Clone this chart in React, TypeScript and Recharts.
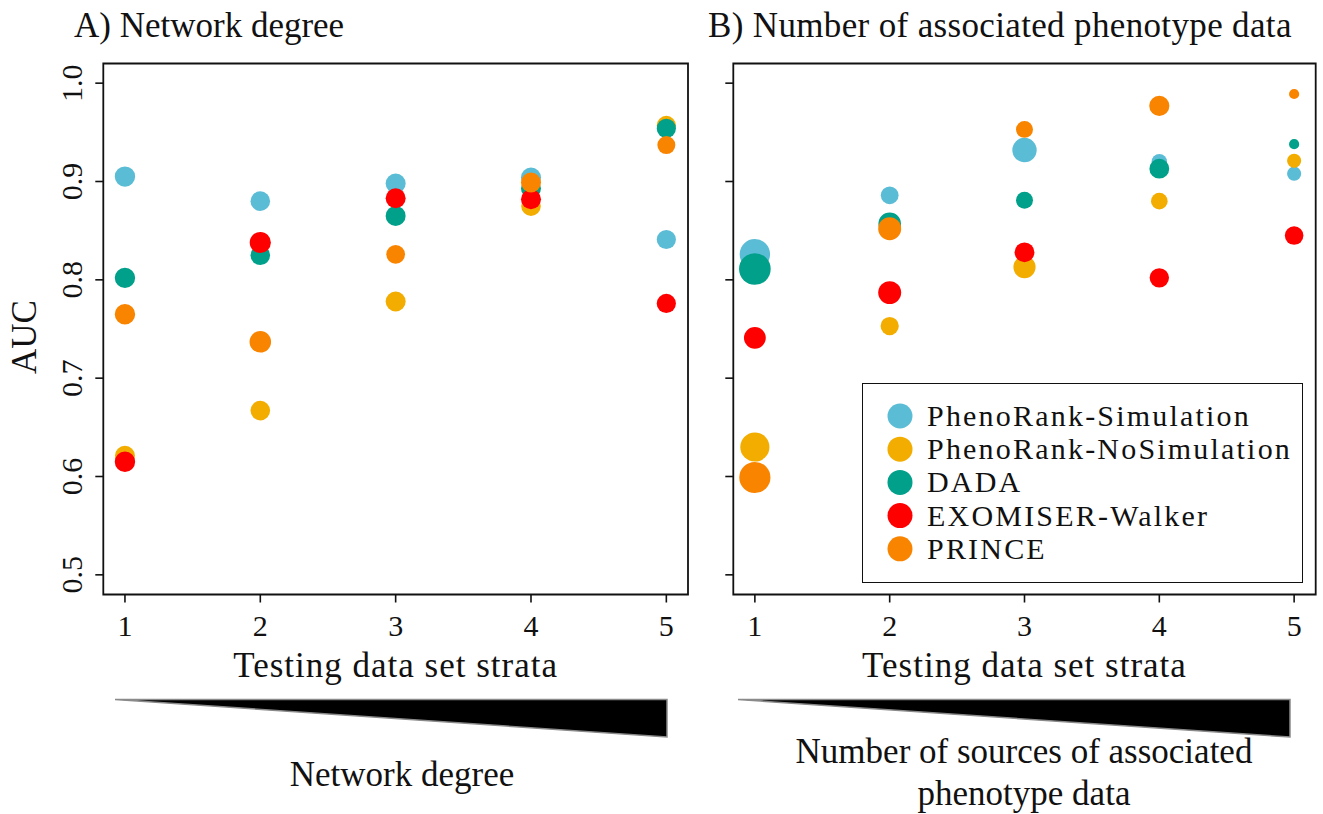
import React from 'react';
import { ScatterChart, Scatter, XAxis, YAxis, ZAxis, ReferenceArea, Legend } from 'recharts';

// ---------- data ----------
const strata = [1, 2, 3, 4, 5];
const yTicks = [0.5, 0.6, 0.7, 0.8, 0.9, 1.0];
const xDomain = [0.84, 5.16];
const yDomain = [0.48, 1.02];

const seriesNames = ['PhenoRank-Simulation', 'PhenoRank-NoSimulation', 'DADA', 'EXOMISER-Walker', 'PRINCE'];
const seriesColors = ['#5BBCD6', '#F2AD00', '#00A08A', '#FF0000', '#F98400'];

// Panel A: AUC by network-degree stratum
const aSim = [0.905, 0.880, 0.898, 0.904, 0.841];
const aNoSim = [0.621, 0.667, 0.778, 0.875, 0.957];
const aDada = [0.802, 0.825, 0.865, 0.893, 0.954];
const aExo = [0.615, 0.838, 0.883, 0.882, 0.776];
const aPrince = [0.765, 0.737, 0.826, 0.899, 0.937];
// Panel A: relative point weights (bubble size)
const aSimW = [104, 96, 100, 100, 92];
const aNoSimW = [100, 96, 100, 96, 92];
const aDadaW = [104, 96, 100, 100, 92];
const aExoW = [104, 112, 100, 100, 92];
const aPrinceW = [104, 116, 88, 100, 81];

// Panel B: AUC by number of associated phenotype data stratum
const bSim = [0.826, 0.886, 0.932, 0.920, 0.908];
const bNoSim = [0.630, 0.753, 0.813, 0.880, 0.921];
const bDada = [0.811, 0.857, 0.881, 0.913, 0.938];
const bExo = [0.741, 0.787, 0.828, 0.802, 0.845];
const bPrince = [0.599, 0.852, 0.953, 0.977, 0.989];
// Panel B: relative point weights (bubble size)
const bSimW = [231, 79, 149, 60, 50];
const bNoSimW = [213, 83, 123, 69, 50];
const bDadaW = [250, 128, 72, 98, 26];
const bExoW = [119, 132, 98, 94, 86];
const bPrinceW = [243, 132, 72, 102, 26];

const build = (vals: number[], w: number[]) => strata.map((x, i) => ({ x, y: vals[i], w: w[i] }));

const panelA = [
  build(aSim, aSimW), build(aNoSim, aNoSimW), build(aDada, aDadaW), build(aExo, aExoW), build(aPrince, aPrinceW),
];
const panelB = [
  build(bSim, bSimW), build(bNoSim, bNoSimW), build(bDada, bDadaW), build(bExo, bExoW), build(bPrince, bPrinceW),
];

// ---------- style ----------
const FONT = '"Liberation Serif", "DejaVu Serif", serif';
const INK = '#111';

const YTickLabel = (props: any) => {
  const { x, y, payload } = props;
  const bx = x - 13;
  return (
    <text transform={`translate(${bx},${y}) rotate(-90)`} textAnchor="middle" fontFamily={FONT} fontSize={30} fill={INK}>
      {payload.value.toFixed(1)}
    </text>
  );
};

const NoTick = () => <g />;

const xLabel = (props: any) => {
  const vb = props.viewBox || {};
  return (
    <text x={vb.x + vb.width / 2} y={vb.y + 82} textAnchor="middle" fontFamily={FONT} fontSize={35} letterSpacing={1} fill={INK}>
      Testing data set strata
    </text>
  );
};

const yLabel = () => {
  const cx = 36;
  const cy = 337;
  return (
    <text transform={`translate(${cx},${cy}) rotate(-90)`} textAnchor="middle" fontFamily={FONT} fontSize={35} fill={INK}>
      AUC
    </text>
  );
};

const LegendBox = (props: any) => {
  const payload = [...(props.payload || [])].sort(
    (a: any, b: any) => seriesNames.indexOf(a.value) - seriesNames.indexOf(b.value)
  );
  return (
    <div style={{ width: 441, height: 200, border: `1.6px solid ${INK}`, boxSizing: 'border-box', background: '#fff' }}>
      <svg width={438} height={197} style={{ display: 'block' }}>
        {payload.map((p: any, i: number) => (
          <g key={i}>
            <circle cx={37} cy={32 + i * 33.2} r={12.5} fill={p.color} />
            <text x={64} y={42 + i * 33.2} fontFamily={FONT} fontSize={30} letterSpacing={2.2} fill={INK}>
              {p.value}
            </text>
          </g>
        ))}
      </svg>
    </div>
  );
};

const Panel = ({ data, left, width, marginLeft, marginRight, showYLabels, legend }: any) => (
  <div style={{ position: 'absolute', left, top: 0 }}>
    <ScatterChart
      width={width}
      height={700}
      margin={{ top: 63.5, right: marginRight, bottom: 25.5, left: marginLeft }}
    >
      <XAxis
        type="number"
        dataKey="x"
        domain={xDomain}
        allowDataOverflow
        ticks={strata}
        interval={0}
        tickSize={8}
        tickMargin={12}
        axisLine={false}
        tickLine={{ stroke: INK, strokeWidth: 1.6 }}
        tick={{ fontFamily: FONT, fontSize: 30, fill: INK }}
        height={80}
        label={xLabel}
      />
      <YAxis
        type="number"
        dataKey="y"
        domain={yDomain}
        allowDataOverflow
        ticks={yTicks}
        interval={0}
        tickSize={8}
        tickMargin={0}
        axisLine={false}
        tickLine={{ stroke: INK, strokeWidth: 1.6 }}
        tick={showYLabels ? YTickLabel : NoTick}
        width={showYLabels ? 50 : 30}
        label={showYLabels ? yLabel : undefined}
      />
      <ZAxis type="number" dataKey="w" domain={[0, 400]} range={[0, 400 * Math.PI]} />
      <ReferenceArea
        x1={xDomain[0]}
        x2={xDomain[1]}
        y1={yDomain[0]}
        y2={yDomain[1]}
        fill="none"
        fillOpacity={0}
        stroke={INK}
        strokeWidth={1.8}
        ifOverflow="visible"
      />
      {data.map((d: any[], i: number) => (
        <Scatter
          key={seriesNames[i]}
          name={seriesNames[i]}
          data={d}
          fill={seriesColors[i]}
          isAnimationActive={false}
          legendType="circle"
        />
      ))}
      {legend && (
        <Legend
          layout="vertical"
          align="center"
          verticalAlign="middle"
          content={LegendBox}
          wrapperStyle={{ position: 'absolute', left: 862 - left, top: 383, width: 441, height: 200 }}
        />
      )}
    </ScatterChart>
  </div>
);

export default function App() {
  return (
    <div style={{ position: 'absolute', left: 0, top: 0, width: 1323, height: 814, background: '#fff', overflow: 'hidden' }}>
      <Panel data={panelA} left={0} width={700} marginLeft={53.3} marginRight={12} showYLabels legend={false} />
      <Panel data={panelB} left={690} width={633} marginLeft={13.3} marginRight={7.3} showYLabels={false} legend />
      <svg width={1323} height={814} style={{ position: 'absolute', left: 0, top: 0, pointerEvents: 'none' }}>
        <text x={74} y={37} fontFamily={FONT} fontSize={35} fill={INK}>A) Network degree</text>
        <text x={708} y={37} fontFamily={FONT} fontSize={35} letterSpacing={0.35} fill={INK}>B) Number of associated phenotype data</text>
        <polygon points="115,699.5 667,699.5 667,737" fill="#000" stroke="#8a8a8a" strokeWidth={1.5} strokeLinejoin="miter" />
        <polygon points="738,699.5 1290,699.5 1290,737" fill="#000" stroke="#8a8a8a" strokeWidth={1.5} strokeLinejoin="miter" />
        <text x={402} y={786} textAnchor="middle" fontFamily={FONT} fontSize={35} fill={INK}>Network degree</text>
        <text x={1024} y={763} textAnchor="middle" fontFamily={FONT} fontSize={35} fill={INK}>Number of sources of associated</text>
        <text x={1024} y={805} textAnchor="middle" fontFamily={FONT} fontSize={35} fill={INK}>phenotype data</text>
      </svg>
    </div>
  );
}
